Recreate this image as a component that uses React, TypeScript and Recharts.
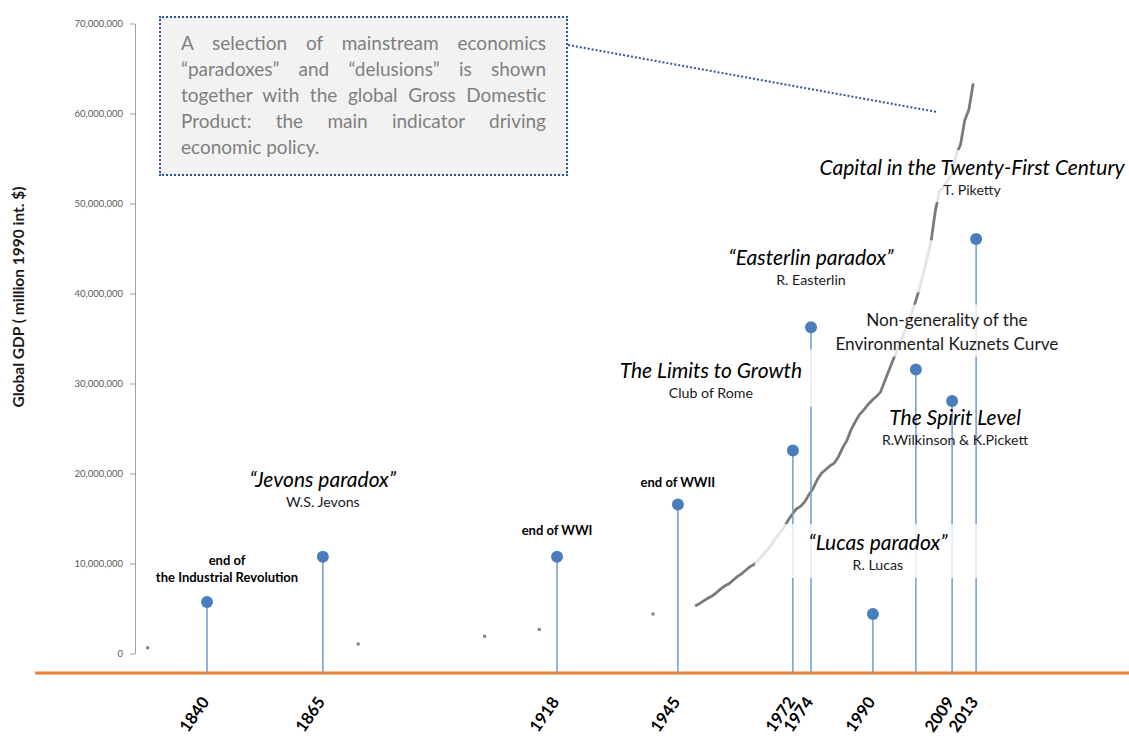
import React from 'react';
import { ComposedChart, Line, Scatter, XAxis, YAxis, ReferenceLine, ErrorBar } from 'recharts';

// world GDP (million 1990 int. $), yearly from 1950
const gdpYears = [
  1950, 1951, 1952, 1953, 1954, 1955, 1956, 1957, 1958, 1959,
  1960, 1961, 1962, 1963, 1964, 1965, 1966, 1967, 1968, 1969,
  1970, 1971, 1972, 1973, 1974, 1975, 1976, 1977, 1978, 1979,
  1980, 1981, 1982, 1983, 1984, 1985, 1986, 1987, 1988, 1989,
  1990, 1991, 1992, 1993, 1994, 1995, 1996, 1997, 1998, 1999,
  2000, 2001, 2002, 2003, 2004, 2005, 2006, 2007, 2008, 2009,
  2010, 2011, 2012, 2013, 2014, 2015, 2016,
];
const gdpValues = [
  5330000, 5600000, 5900000, 6200000, 6450000, 6800000, 7200000, 7550000, 7800000, 8200000,
  8600000, 8900000, 9300000, 9700000, 9950000, 10400000, 11000000, 11500000, 12100000, 12800000,
  13400000, 14000000, 14800000, 15500000, 16100000, 16400000, 16900000, 17700000, 18400000, 19400000,
  20100000, 20500000, 20900000, 21200000, 21900000, 22900000, 23700000, 24900000, 25800000, 26600000,
  27100000, 27700000, 28200000, 28600000, 29100000, 30300000, 31500000, 32700000, 33800000, 35000000,
  36200000, 37300000, 38700000, 40200000, 42000000, 43900000, 45800000, 49200000, 51400000, 51900000,
  52700000, 53300000, 55500000, 56600000, 59300000, 60500000, 63400000,
];

// sparse benchmark years before 1950
const earlyYears = [1820, 1870, 1900, 1913, 1940];
const earlyValues = [694000, 1110000, 1970000, 2730000, 4450000];

// events: place on the time axis, stem height, printed year, text
const eventPositions = [1834.1, 1861.6, 1917.2, 1945.9, 1973.2, 1977.5, 1992.2, 2002.4, 2011.0, 2016.7];
const eventValues = [5780000, 10800000, 10800000, 16600000, 22600000, 36300000, 4440000, 31600000, 28100000, 46100000];
const eventYearLabels = ['1840', '1865', '1918', '1945', '1972', '1974', '1990', '', '2009', '2013'];
const eventTitles = [
  'end of',
  '\u201CJevons paradox\u201D',
  'end of WWI',
  'end of WWII',
  'The Limits to Growth',
  '\u201CEasterlin paradox\u201D',
  '\u201CLucas paradox\u201D',
  'Non-generality of the',
  'The Spirit Level',
  'Capital in the Twenty-First Century',
];
const eventAuthors = [
  'the Industrial Revolution',
  'W.S. Jevons',
  '',
  '',
  'Club of Rome',
  'R. Easterlin',
  'R. Lucas',
  'Environmental Kuznets Curve',
  'R.Wilkinson & K.Pickett',
  'T. Piketty',
];

const yTicks = [0, 10000000, 20000000, 30000000, 40000000, 50000000, 60000000, 70000000];

const noteLines = [
  'A selection of mainstream economics',
  '\u201Cparadoxes\u201D and \u201Cdelusions\u201D is shown',
  'together with the global Gross Domestic',
  'Product: the main indicator driving',
  'economic policy.',
];

const FONT = 'Lato, "Open Sans", sans-serif';
const X_MIN = 1817;
const X_MAX = 2053;
const Y_MIN = -2110000;
const Y_MAX = 70000000;

// label placement relative to each event dot (px)
const labelLayout = [
  { dx: 20, dy: -37, kind: 'bold' },
  { dx: 0, dy: -70, kind: 'paper' },
  { dx: 0, dy: -22, kind: 'bold' },
  { dx: 0, dy: -18, kind: 'bold' },
  { dx: -82, dy: -73, kind: 'paper', box: [-101, -28, 205, 57] },
  { dx: 0, dy: -62, kind: 'paper', box: [-121, -25, 245, 52] },
  { dx: 5, dy: -64, kind: 'paper', box: [-123, -26, 245, 54] },
  { dx: 31, dy: -44, kind: 'plain', box: [-92, -21, 185, 52] },
  { dx: 3, dy: 24, kind: 'paper' },
  { dx: -4, dy: -64, kind: 'paper', box: [-157, -25, 314, 52] },
];

const gdpData = gdpYears.map((pos, i) => ({ pos, gdp: gdpValues[i] }));
const earlyData = earlyYears.map((pos, i) => ({ pos, gdp: earlyValues[i] }));
const eventData = eventPositions.map((pos, i) => ({
  idx: i,
  pos,
  value: eventValues[i],
  stem: [eventValues[i] - Y_MIN, 0],
}));
const labelledPositions = eventPositions.filter((_, i) => eventYearLabels[i] !== '');

const SquareDot = (p: any) => <rect x={p.cx - 1.5} y={p.cy - 1.5} width={3} height={3} fill="#7f7f7f" />;

const EventDot = (p: any) => <circle cx={p.cx} cy={p.cy} r={6} fill="#4a7ebb" />;

const EventLabel = (p: any) => {
  const idx = p.payload ? p.payload.idx : p.idx;
  const lay: any = labelLayout[idx];
  const x = p.cx + lay.dx;
  const y = p.cy + lay.dy;
  let title: any = { fontSize: 13, fontWeight: 700, fill: '#000' };
  let sub: any = { fontSize: 13, fontWeight: 700, fill: '#000' };
  let gap = 17;
  if (lay.kind === 'paper') {
    title = { fontSize: 21, fontStyle: 'italic', fill: '#000' };
    sub = { fontSize: 14.2, fill: '#1a1a1a' };
    gap = 20;
  } else if (lay.kind === 'plain') {
    title = { fontSize: 17.2, fill: '#1a1a1a' };
    sub = { fontSize: 17.2, fill: '#1a1a1a' };
    gap = 24;
  }
  return (
    <g>
      {lay.box && (
        <rect x={x + lay.box[0]} y={y + lay.box[1]} width={lay.box[2]} height={lay.box[3]} fill="#fff" fillOpacity={0.8} />
      )}
      <text x={x} y={y} textAnchor="middle" fontFamily={FONT} {...title}>{eventTitles[idx]}</text>
      {eventAuthors[idx] && (
        <text x={x} y={y + gap} textAnchor="middle" fontFamily={FONT} {...sub}>{eventAuthors[idx]}</text>
      )}
    </g>
  );
};

const YearTick = (p: any) => {
  const i = eventPositions.indexOf(p.payload.value);
  const text = i >= 0 ? eventYearLabels[i] : '';
  if (!text) return null;
  const ax = p.x + 3;
  const ay = p.y + 29;
  return (
    <text x={ax} y={ay} transform={`rotate(-55 ${ax} ${ay})`} textAnchor="end"
      fontFamily={FONT} fontWeight={700} fontSize={16.5} fill="#000">
      {text}
    </text>
  );
};

export default function App() {
  return (
    <div style={{ position: 'absolute', left: 0, top: 0, width: 1129, height: 736, background: '#fff' }}>
      <ComposedChart width={1129} height={736} margin={{ top: 24, right: 0, bottom: 0, left: 0 }}>
        <XAxis type="number" dataKey="pos" domain={[X_MIN, X_MAX]} ticks={labelledPositions} interval={0}
          height={63} axisLine={false} tickLine={false} tickSize={0} tickMargin={0} tick={YearTick} />
        <YAxis type="number" domain={[Y_MIN, Y_MAX]} ticks={yTicks} interval={0} width={135}
          axisLine={false} tickLine={{ stroke: '#a0a0a0' }} tickSize={5} tickMargin={7}
          tick={{ fontSize: 9.5, fill: '#595959', fontFamily: FONT }}
          tickFormatter={(v: number) => v.toLocaleString('en-US')} />
        <ReferenceLine segment={[{ x: 1793.3, y: Y_MIN }, { x: X_MAX, y: Y_MIN }]} stroke="#ed7d31" strokeWidth={3} ifOverflow="visible" />
        <Line data={gdpData} dataKey="gdp" type="linear" stroke="#7a7a7a" strokeWidth={2.8} dot={false} isAnimationActive={false} />
        <Scatter data={earlyData} dataKey="gdp" shape={SquareDot} isAnimationActive={false} />
        <Scatter data={eventData} dataKey="value" shape={EventDot} isAnimationActive={false}>
          <ErrorBar dataKey="stem" direction="y" width={0} stroke="#6f9bd3" strokeWidth={1.5} isAnimationActive={false} />
        </Scatter>
        <Scatter data={eventData} dataKey="value" shape={EventLabel} isAnimationActive={false} />
      </ComposedChart>
      <svg width={1129} height={736} style={{ position: 'absolute', left: 0, top: 0, pointerEvents: 'none' }}>
        {/* value axis line, drawn only from 0 to 70,000,000 */}
        <line x1={135.5} y1={24} x2={135.5} y2={654} stroke="#a0a0a0" strokeWidth={1} />
        <text x={18} y={297} transform="rotate(-90 18 297)" textAnchor="middle" dominantBaseline="central"
          fontFamily={FONT} fontWeight={700} fontSize={15.5} fill="#1a1a1a">
          Global GDP ( million 1990 int. $)
        </text>
        <line x1={568} y1={45} x2={937} y2={112} stroke="#2f5597" strokeWidth={2} strokeDasharray="2 2" />
      </svg>
      <div style={{
        position: 'absolute', left: 159, top: 16, width: 409, height: 160, boxSizing: 'border-box',
        background: '#f2f2f2', border: '2px dotted #2f5597', padding: '12px 20px 0 20px',
        fontFamily: FONT, fontSize: 19, lineHeight: '26px', color: '#7f7f7f',
      }}>
        {noteLines.map((t, i) => (
          <div key={i} style={{ textAlign: 'left', textAlignLast: i < noteLines.length - 1 ? 'justify' : 'left', whiteSpace: 'nowrap' }}>
            {t}
          </div>
        ))}
      </div>
    </div>
  );
}
